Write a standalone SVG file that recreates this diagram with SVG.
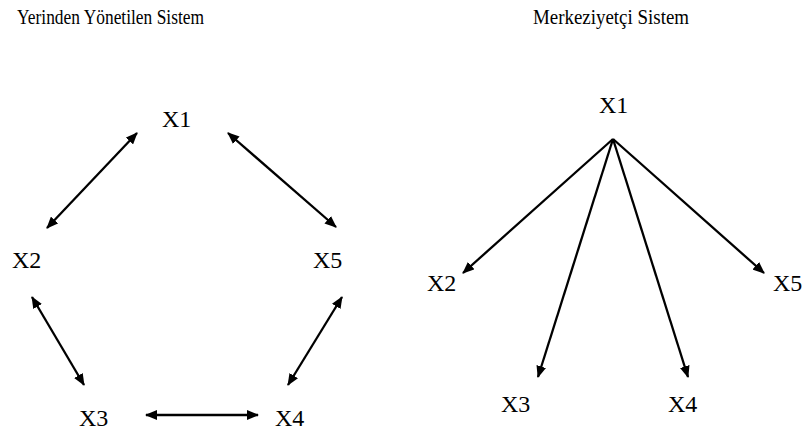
<svg xmlns="http://www.w3.org/2000/svg" width="805" height="434" viewBox="0 0 805 434">
<style>
text{font-family:'Liberation Serif','Times New Roman',serif;fill:#000}
.t{font-size:22px}
.n{font-size:24px}
.c line{stroke:#000;stroke-width:2.3}
</style>
<defs>
<marker id="ah" viewBox="0 0 12 10" refX="11" refY="5" markerWidth="12" markerHeight="10" markerUnits="userSpaceOnUse" orient="auto-start-reverse">
<path d="M0,0 L12,5 L0,10 z" fill="#000"/>
</marker>
</defs>
<rect width="805" height="434" fill="#fff"/>
<g id="title-left"><text class="t" x="17" y="24" textLength="187" lengthAdjust="spacingAndGlyphs">Yerinden Yönetilen Sistem</text></g>
<g id="title-right"><text class="t" x="533" y="24" textLength="156" lengthAdjust="spacingAndGlyphs">Merkeziyetçi Sistem</text></g>
<g id="L1"><text class="n" x="162" y="127">X1</text></g>
<g id="L2"><text class="n" x="12" y="268">X2</text></g>
<g id="L5"><text class="n" x="313" y="268">X5</text></g>
<g id="L3"><text class="n" x="79" y="426">X3</text></g>
<g id="L4"><text class="n" x="275" y="426">X4</text></g>
<g id="R1"><text class="n" x="599" y="113">X1</text></g>
<g id="R2"><text class="n" x="427" y="291">X2</text></g>
<g id="R5"><text class="n" x="773" y="291">X5</text></g>
<g id="R3"><text class="n" x="501" y="412">X3</text></g>
<g id="R4"><text class="n" x="668" y="412">X4</text></g>
<g class="c" id="connectors">
<line x1="137" y1="133" x2="47" y2="228" marker-start="url(#ah)" marker-end="url(#ah)"/>
<line x1="228" y1="133" x2="336" y2="227" marker-start="url(#ah)" marker-end="url(#ah)"/>
<line x1="32" y1="297" x2="84" y2="385" marker-start="url(#ah)" marker-end="url(#ah)"/>
<line x1="342" y1="297" x2="288" y2="385" marker-start="url(#ah)" marker-end="url(#ah)"/>
<line x1="146" y1="415" x2="258" y2="415" marker-start="url(#ah)" marker-end="url(#ah)"/>
<line x1="613" y1="139" x2="463" y2="273" marker-end="url(#ah)"/>
<line x1="613" y1="139" x2="764" y2="273" marker-end="url(#ah)"/>
<line x1="613" y1="139" x2="538" y2="377" marker-end="url(#ah)"/>
<line x1="613" y1="139" x2="688" y2="377" marker-end="url(#ah)"/>
</g>
</svg>
